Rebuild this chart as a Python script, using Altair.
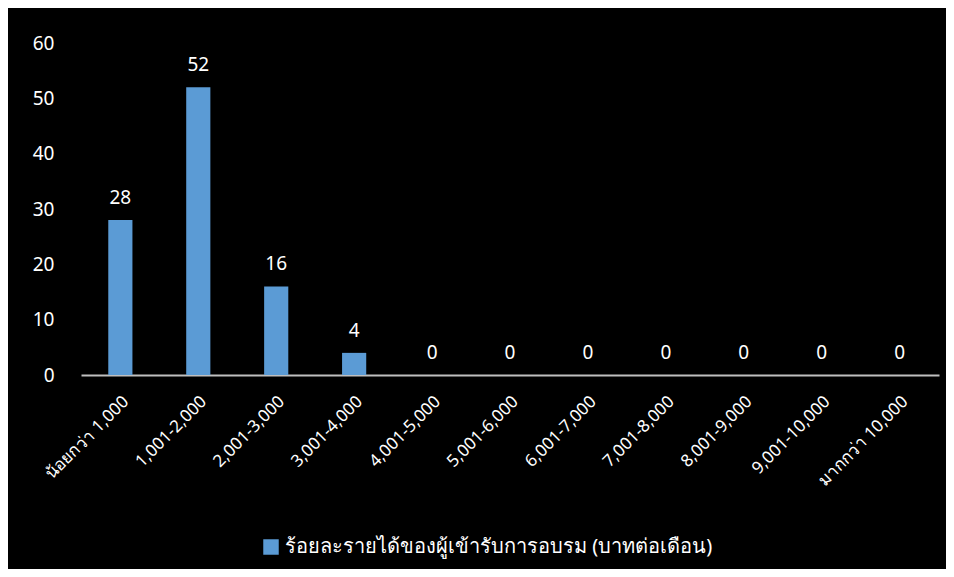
import altair as alt
import pandas as pd

categories = ["น้อยกว่า 1,000", "1,001-2,000", "2,001-3,000", "3,001-4,000", "4,001-5,000",
              "5,001-6,000", "6,001-7,000", "7,001-8,000", "8,001-9,000", "9,001-10,000", "มากกว่า 10,000"]
values = [28, 52, 16, 4, 0, 0, 0, 0, 0, 0, 0]
series = "ร้อยละรายได้ของผู้เข้ารับการอบรม (บาทต่อเดือน)"

df = pd.DataFrame({"cat": categories, "val": values, "series": [series] * len(values)})

FONT = "Noto Sans, sans-serif"

x = alt.X("cat:N", sort=categories, title=None,
          scale=alt.Scale(paddingInner=0.69, paddingOuter=0.35),
          axis=alt.Axis(labelAngle=-45, labelColor="white", labelFontSize=17, labelFont=FONT,
                        domainColor="#BFBFBF", domainWidth=2, ticks=False, labelPadding=18))

bars = alt.Chart(df).mark_bar(color="#5B9BD5").encode(
    x=x,
    y=alt.Y("val:Q", title=None, scale=alt.Scale(domain=[0, 60]),
            axis=alt.Axis(values=[0, 10, 20, 30, 40, 50, 60], labelColor="white", labelFontSize=19,
                          labelFont=FONT, domain=False, ticks=False, grid=False, labelPadding=27)),
    color=alt.Color("series:N", scale=alt.Scale(range=["#5B9BD5"]),
                    legend=alt.Legend(title=None, orient="none", legendX=180, legendY=494,
                                      symbolType="square", symbolSize=240, labelFontSize=20,
                                      labelColor="white", labelFont=FONT, symbolStrokeWidth=0,
                                      labelLimit=600)),
)

text = alt.Chart(df).mark_text(color="white", fontSize=19, font=FONT, dy=-22, baseline="middle").encode(
    x=alt.X("cat:N", sort=categories),
    y="val:Q",
    text="val:Q",
)

chart = (bars + text).properties(
    width=858, height=332, background="black",
    autosize=alt.AutoSizeParams(type="none"),
    padding={"left": 73, "top": 35, "right": 7, "bottom": 194},
).configure_view(stroke=None)

chart.save("out.html", embed_options={"renderer": "svg", "actions": False})
